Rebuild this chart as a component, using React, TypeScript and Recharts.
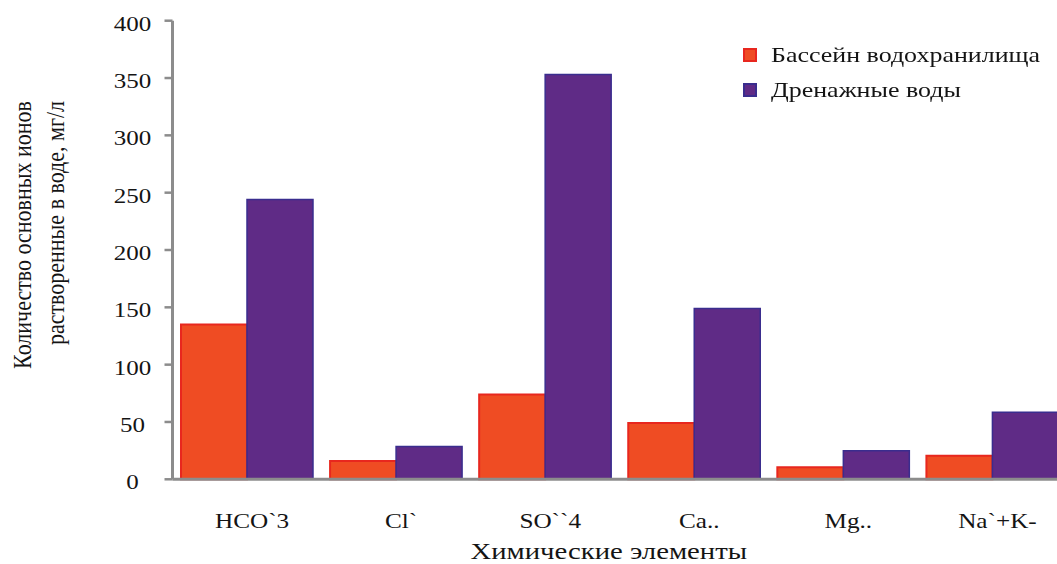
import React from 'react';
import { BarChart, Bar, XAxis, YAxis, Legend } from 'recharts';

// Ion groups along the x axis
const categories = ['HCO`3', 'Cl`', 'SO``4', 'Ca..', 'Mg..', 'Na`+K-'];
// Reservoir basin, mg/l
const reservoirValues = [135, 16, 74, 49, 10.5, 20.5];
// Drainage water, mg/l
const drainageValues = [244, 28.5, 353, 149, 25, 58.5];
const yTicks = [0, 50, 100, 150, 200, 250, 300, 350, 400];
const seriesNames = ['Бассейн водохранилища', 'Дренажные воды'];
const yTitleLines = ['Количество основных ионов', 'растворенные в воде, мг/л'];
const xTitle = 'Химические элементы';

const data = categories.map((name, i) => ({
  name,
  reservoir: reservoirValues[i],
  drainage: drainageValues[i],
}));

const FONT = '"Liberation Serif", "Times New Roman", serif';
const INK = '#141414';
const AXIS = '#8c8c8c';

const ORANGE = { fill: '#EF4C23', stroke: '#E8271E' };
const PURPLE = { fill: '#5F2B86', stroke: '#3A2D8E' };
const strokeByName: Record<string, string> = {
  [seriesNames[0]]: ORANGE.stroke,
  [seriesNames[1]]: PURPLE.stroke,
};

// Serif text widened horizontally
function Wide(props: {
  x: number;
  y: number;
  size: number;
  sx: number;
  anchor?: 'start' | 'middle' | 'end';
  rotate?: number;
  children: React.ReactNode;
}) {
  const { x, y, size, sx, anchor = 'middle', rotate, children } = props;
  const t = `translate(${x},${y}) scale(${sx},1)${rotate ? ` rotate(${rotate})` : ''}`;
  return (
    <text transform={t} textAnchor={anchor} fontFamily={FONT} fontSize={size} fill={INK}>
      {children}
    </text>
  );
}

function YTick(props: any) {
  const { x, y, payload } = props;
  return (
    <Wide x={x - 30} y={y + 10} size={20} sx={1.25}>
      {payload.value}
    </Wide>
  );
}

function XTick(props: any) {
  const { x, y, payload } = props;
  return (
    <Wide x={x + 5} y={y + 49} size={21} sx={1.2}>
      {payload.value}
    </Wide>
  );
}

function XTitle(props: any) {
  const vb = props.viewBox || {};
  return (
    <Wide x={vb.x + vb.width / 2 - 11} y={vb.y + 80} size={23} sx={1.25}>
      {xTitle}
    </Wide>
  );
}

function YTitle(props: any) {
  const vb = props.viewBox || {};
  const cy = vb.y + vb.height / 2;
  return (
    <g>
      <Wide x={31} y={cy - 15} size={22} sx={1.12} rotate={-90}>
        {yTitleLines[0]}
      </Wide>
      <Wide x={64} y={cy - 27} size={22} sx={1.12} rotate={-90}>
        {yTitleLines[1]}
      </Wide>
    </g>
  );
}

function LegendBox(props: any) {
  const items = props.payload || [];
  return (
    <div style={{ fontFamily: FONT, fontSize: 22, color: INK }}>
      {items.map((entry: any) => (
        <div
          key={entry.value}
          style={{ display: 'flex', alignItems: 'center', height: 35, whiteSpace: 'nowrap' }}
        >
          <span
            style={{
              display: 'inline-block',
              width: 10,
              height: 10,
              background: entry.color,
              border: `2px solid ${strokeByName[entry.value] || entry.color}`,
              filter: 'blur(0.6px)',
              marginRight: 14,
            }}
          />
          <span style={{ display: 'inline-block', transform: 'scaleX(1.18)', transformOrigin: 'left center' }}>
            {entry.value}
          </span>
        </div>
      ))}
    </div>
  );
}

export default function App() {
  return (
    <div style={{ position: 'absolute', left: 0, top: 0, width: 1057, height: 564, overflow: 'hidden', background: '#fff' }}>
      <BarChart
        width={1072}
        height={564}
        data={data}
        margin={{ top: 20.7, right: 5, bottom: 0, left: 1.5 }}
        barCategoryGap="5.7%"
        barGap={0}
      >
        <XAxis
          dataKey="name"
          height={84.7}
          interval={0}
          tickLine={false}
          tickSize={0}
          tickMargin={0}
          axisLine={{ stroke: AXIS, strokeWidth: 3 }}
          tick={<XTick />}
          label={<XTitle />}
        />
        <YAxis
          type="number"
          domain={[0, 400]}
          ticks={yTicks}
          interval={0}
          width={171}
          tickSize={8}
          tickMargin={2}
          axisLine={{ stroke: AXIS, strokeWidth: 3 }}
          tickLine={{ stroke: AXIS, strokeWidth: 2.5 }}
          tick={<YTick />}
          label={<YTitle />}
        />
        <Legend
          layout="horizontal"
          verticalAlign="middle"
          align="center"
          content={<LegendBox />}
          wrapperStyle={{ position: 'absolute', top: 37, left: 743, width: 320 }}
        />
        <Bar
          dataKey="reservoir"
          name={seriesNames[0]}
          fill={ORANGE.fill}
          stroke={ORANGE.stroke}
          strokeWidth={2}
          isAnimationActive={false}
        />
        <Bar
          dataKey="drainage"
          name={seriesNames[1]}
          fill={PURPLE.fill}
          stroke={PURPLE.stroke}
          strokeWidth={1.5}
          isAnimationActive={false}
        />
      </BarChart>
    </div>
  );
}
